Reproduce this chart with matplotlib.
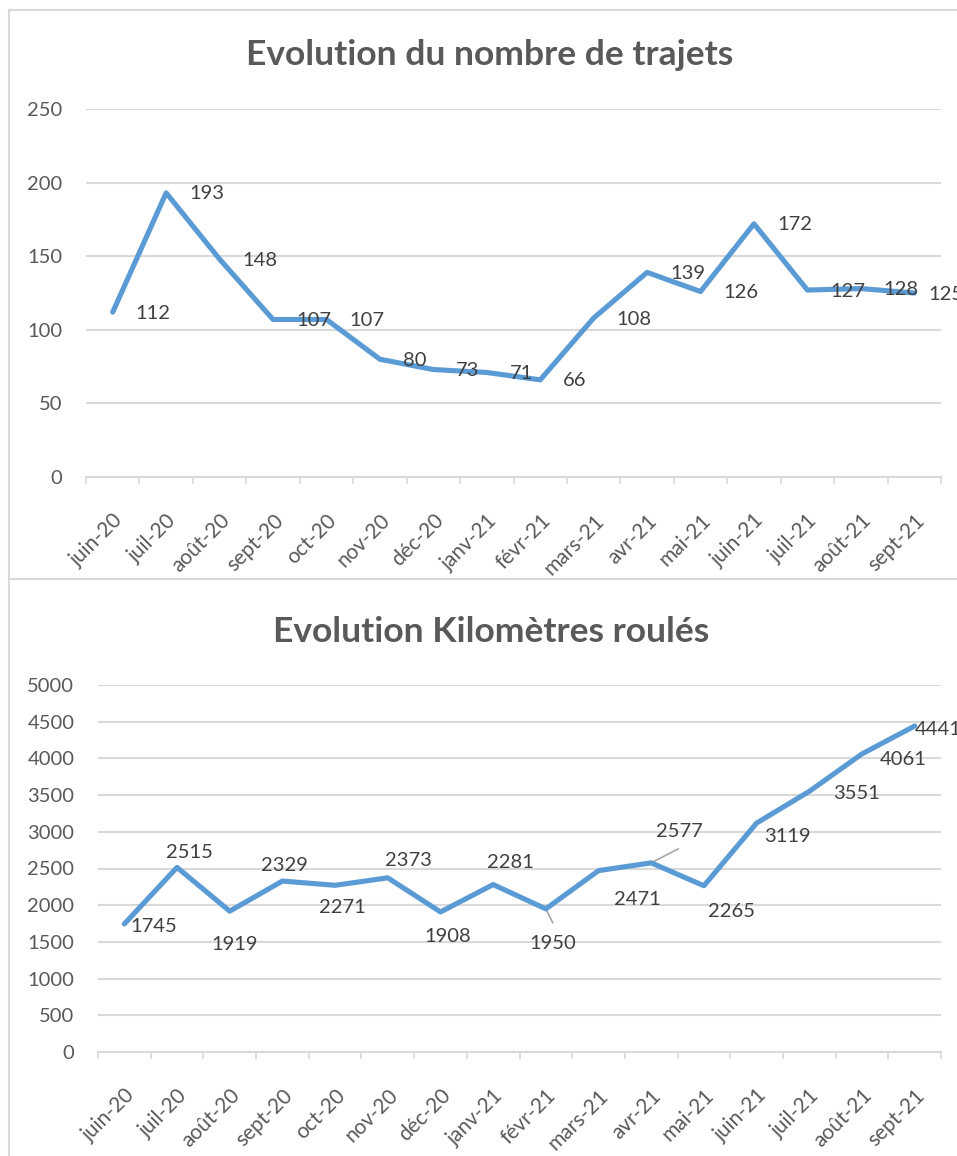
import matplotlib
matplotlib.use("Agg")
import matplotlib.pyplot as plt
from matplotlib.lines import Line2D
from matplotlib.ticker import FixedLocator

months = ["juin-20", "juil-20", "août-20", "sept-20", "oct-20", "nov-20", "déc-20",
          "janv-21", "févr-21", "mars-21", "avr-21", "mai-21", "juin-21", "juil-21",
          "août-21", "sept-21"]
trajets = [112, 193, 148, 107, 107, 80, 73, 71, 66, 108, 139, 126, 172, 127, 128, 125]
kilometres = [1745, 2515, 1919, 2329, 2271, 2373, 1908, 2281, 1950, 2471, 2577, 2265,
              3119, 3551, 4061, 4441]
title_top = "Evolution du nombre de trajets"
title_bottom = "Evolution Kilomètres roulés"
yticks_top = [0, 50, 100, 150, 200, 250]
yticks_bottom = list(range(0, 5001, 500))

# label offsets (pixels, image coords: +x right, +y down)
trajets_label_dx = [23] * 15 + [14]
km_label_offsets = [(29, 2), (12, -16), (5, 32), (2, -17), (7, 21), (21, -18), (7, 24),
                    (17, -23), (7, 34), (39, 28), (28, -32), (28, 25), (31, 12),
                    (47, 1), (41, 5), (24, 2)]
km_leaders = {8: (7, 14), 10: (27, -14)}

W, H = 957, 1156
DPI = 100
plt.rcParams['font.family'] = ['Lato', 'DejaVu Sans']
LINE = "#5B9BD5"
GRID = "#D9D9D9"
TXT = "#595959"
LBL = "#404040"

fig = plt.figure(figsize=(W / DPI, H / DPI), dpi=DPI)
fig.patch.set_facecolor("white")


def fx(px):
    return px / W


def fy(py):
    return 1 - py / H


def make_axes(left, right, top, bottom):
    return fig.add_axes([fx(left), fy(bottom), fx(right - left), (bottom - top) / H])


def style_axes(ax, values, yticks):
    n = len(values)
    x = list(range(n))
    ax.plot(x, values, color=LINE, lw=3.7, solid_joinstyle='round', solid_capstyle='round',
            zorder=3)
    ax.set_xlim(-0.5, n - 0.5)
    ax.set_ylim(yticks[0], yticks[-1])
    ax.set_yticks(yticks)
    ax.yaxis.grid(True, color=GRID, lw=1.5)
    ax.set_axisbelow(True)
    for s in ["top", "right", "left"]:
        ax.spines[s].set_visible(False)
    ax.spines["bottom"].set_color(GRID)
    ax.spines["bottom"].set_linewidth(1.5)
    ax.tick_params(axis='y', length=0, pad=17, labelsize=14.5, labelcolor=TXT)
    ax.set_xticks(x)
    ax.set_xticklabels(months, rotation=45, ha='right', rotation_mode='anchor',
                       fontsize=15, color=TXT)
    ax.tick_params(axis='x', which='major', length=0, pad=24)
    ax.xaxis.set_minor_locator(FixedLocator([i - 0.5 for i in range(n + 1)]))
    ax.tick_params(axis='x', which='minor', length=5, width=1.2, color=GRID, direction='out')
    ax.set_facecolor("none")
    return x


# top chart
ax1 = make_axes(86, 941, 109, 477)
x1 = style_axes(ax1, trajets, yticks_top)
for xi, v, dx in zip(x1, trajets, trajets_label_dx):
    ax1.annotate(str(v), (xi, v), xytext=(dx, -1), textcoords='offset pixels',
                 ha='left', va='center', fontsize=14.5, color=LBL, zorder=4,
                 annotation_clip=False)
fig.text(fx(490), fy(55), title_top, ha='center', va='center', fontsize=25.5,
         fontweight='bold', color=TXT)

# bottom chart
ax2 = make_axes(98, 941, 685, 1052)
x2 = style_axes(ax2, kilometres, yticks_bottom)
for i, (xi, v) in enumerate(zip(x2, kilometres)):
    dx, dy = km_label_offsets[i]
    ax2.annotate(str(v), (xi, v), xytext=(dx, -dy - 1), textcoords='offset pixels',
                 ha='center', va='center', fontsize=14.5, color=LBL, zorder=4,
                 annotation_clip=False)
    if i in km_leaders:
        lx, ly = km_leaders[i]
        ax2.annotate("", (xi, v), xytext=(lx, -ly), textcoords='offset pixels',
                     arrowprops=dict(arrowstyle='-', color='#A6A6A6', lw=1.2,
                                     shrinkA=0, shrinkB=0), zorder=2)
fig.text(fx(491), fy(632), title_bottom, ha='center', va='center', fontsize=25.5,
         fontweight='bold', color=TXT)

# chart borders
for (xa, ya, xb, yb) in [(9, 10, W + 5, 10), (9, 10, 9, 579), (9, 579, W + 5, 579),
                         (9, 581, 9, H + 5)]:
    fig.add_artist(Line2D([fx(xa), fx(xb)], [fy(ya), fy(yb)], color=GRID, lw=1.5))

fig.savefig("out.png", dpi=DPI)
